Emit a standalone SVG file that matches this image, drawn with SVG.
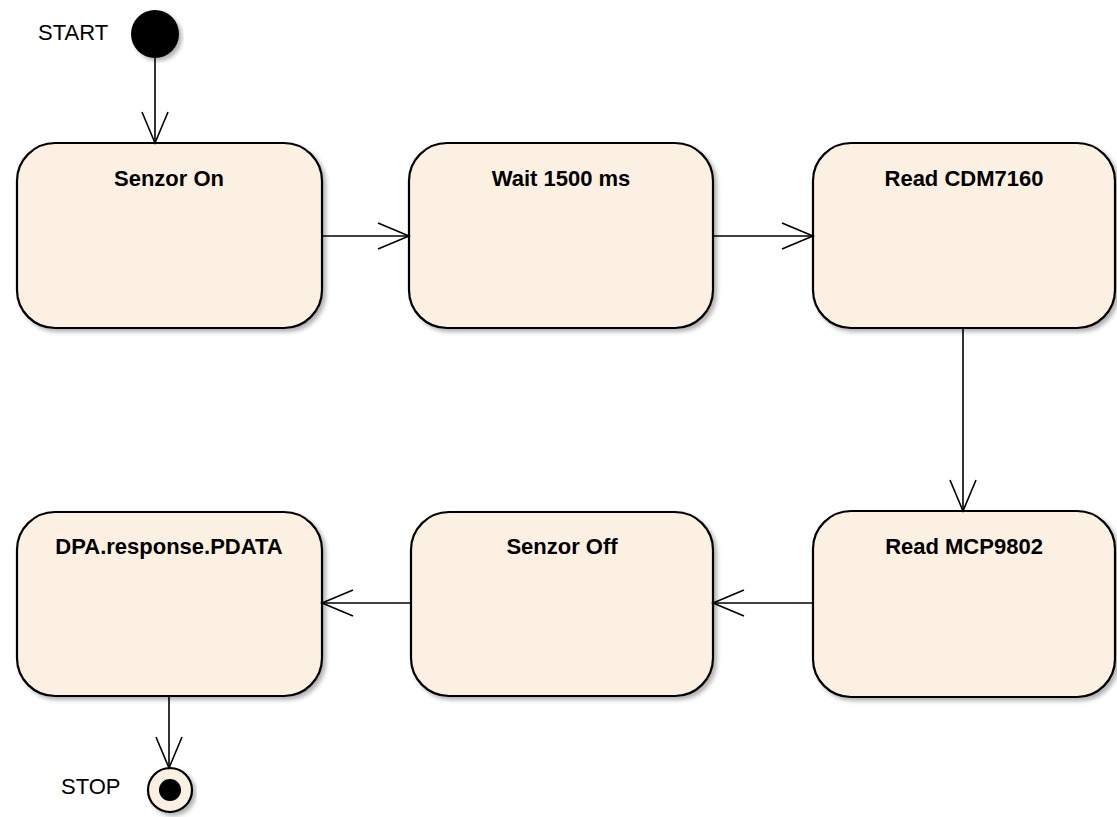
<svg xmlns="http://www.w3.org/2000/svg" width="1117" height="817" viewBox="0 0 1117 817">
<defs>
<style>
.box{fill:#FBF0E1;stroke:#000;stroke-width:2.2;filter:url(#sh)}
.lbl{font-family:"Liberation Sans",Arial,sans-serif;font-weight:bold;font-size:22px;fill:#000;text-anchor:middle}
.note{font-family:"Liberation Sans",Arial,sans-serif;font-size:22px;fill:#000}
.con{fill:none;stroke:#000;stroke-width:1.6}
</style>
<filter id="sh" x="-5%" y="-5%" width="115%" height="115%">
<feDropShadow dx="3" dy="3" stdDeviation="2" flood-color="#000" flood-opacity="0.3"/>
</filter>
<marker id="ah" markerUnits="userSpaceOnUse" markerWidth="36" markerHeight="30" refX="32" refY="14" orient="auto" viewBox="0 0 36 30">
<path d="M1,1 L32,14 L1,27" fill="none" stroke="#000" stroke-width="1.6"/>
</marker>
</defs>
<rect width="1117" height="817" fill="#fff"/>
<g id="start">
<circle cx="155" cy="34" r="24" fill="#000" filter="url(#sh)"/>
<text class="note" x="38" y="40">START</text>
</g>
<g id="senzor-on">
<rect class="box" x="17" y="143" width="305" height="185" rx="38" ry="38"/>
<text class="lbl" x="169" y="186">Senzor On</text>
</g>
<g id="wait">
<rect class="box" x="409" y="143" width="304" height="185" rx="38" ry="38"/>
<text class="lbl" x="561" y="186">Wait 1500 ms</text>
</g>
<g id="read-cdm">
<rect class="box" x="813" y="143" width="302" height="185" rx="38" ry="38"/>
<text class="lbl" x="964" y="186">Read CDM7160</text>
</g>
<g id="read-mcp">
<rect class="box" x="813" y="511" width="302" height="186" rx="38" ry="38"/>
<text class="lbl" x="964" y="554">Read MCP9802</text>
</g>
<g id="senzor-off">
<rect class="box" x="411" y="512" width="302" height="184" rx="38" ry="38"/>
<text class="lbl" x="562" y="554">Senzor Off</text>
</g>
<g id="dpa">
<rect class="box" x="17" y="512" width="305" height="184" rx="38" ry="38"/>
<text class="lbl" x="169" y="554">DPA.response.PDATA</text>
</g>
<g id="stop">
<circle cx="170" cy="790" r="22" fill="#FBF0E1" stroke="#000" stroke-width="2.2" filter="url(#sh)"/>
<circle cx="170" cy="790" r="11" fill="#000"/>
<text class="note" x="61" y="794">STOP</text>
</g>
<g id="connectors">
<path class="con" d="M155,58 L155,143" marker-end="url(#ah)"/>
<path class="con" d="M322,236 L409,236" marker-end="url(#ah)"/>
<path class="con" d="M713,236 L813,236" marker-end="url(#ah)"/>
<path class="con" d="M963,328 L963,511" marker-end="url(#ah)"/>
<path class="con" d="M813,603 L713,603" marker-end="url(#ah)"/>
<path class="con" d="M411,603 L322,603" marker-end="url(#ah)"/>
<path class="con" d="M169,696 L169,768" marker-end="url(#ah)"/>
</g>
</svg>
